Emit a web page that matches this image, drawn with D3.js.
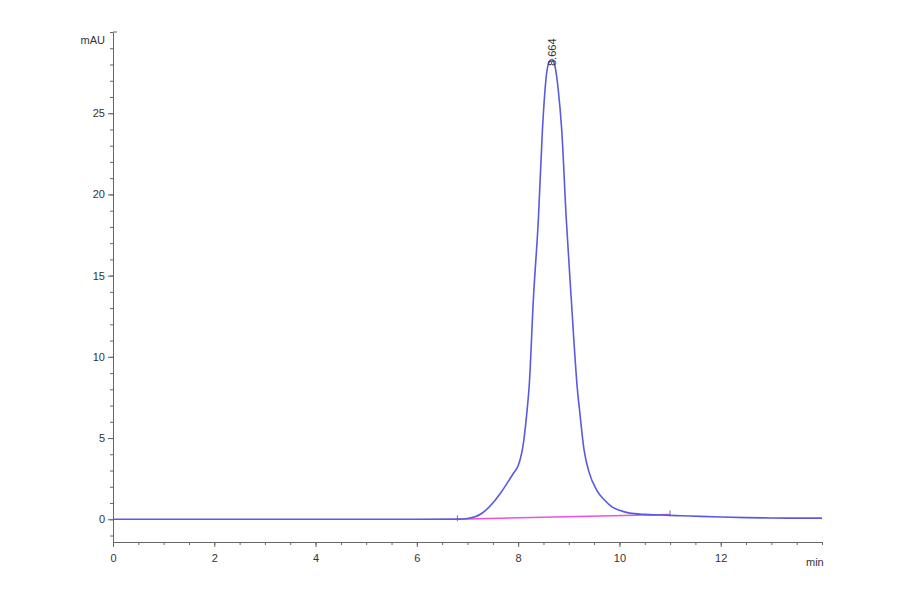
<!DOCTYPE html>
<html>
<head>
<meta charset="utf-8">
<script src="https://cdn.jsdelivr.net/npm/d3@7"></script>
<style>
  body { margin: 0; background: #fff; }
  svg { display: block; }
  .axis text { font-family: Arial, "Liberation Sans", sans-serif; font-size: 11px; fill: #333; }
  .axis path, .axis line { stroke: #666; }
</style>
</head>
<body>
<svg id="chart" width="900" height="594"></svg>
<script>
// retention time (min) and detector signal (mAU)
var times = [0, 1, 2, 3, 4, 5, 6, 6.8, 7.0, 7.15, 7.3, 7.5, 7.65, 7.8, 7.9, 8.0, 8.05, 8.1, 8.17,
  8.22, 8.3, 8.4, 8.48, 8.56, 8.62, 8.67, 8.72, 8.79, 8.86, 8.95, 9.05, 9.17, 9.22, 9.3, 9.4,
  9.55, 9.7, 9.86, 10.0, 10.2, 10.5, 10.8, 11.2, 11.6, 12.0, 12.5, 13.0, 13.5, 14.0];
var signal = [0, 0, 0, 0, 0, 0, 0, 0.01, 0.05, 0.15, 0.4, 1.0, 1.6, 2.3, 2.8, 3.3, 3.8, 4.6, 6.5,
  8.3, 13.5, 18.5, 24.0, 27.4, 28.2, 28.3, 28.0, 26.5, 24.0, 18.5, 13.5, 8.0, 6.5, 4.3, 2.9,
  1.8, 1.2, 0.75, 0.55, 0.38, 0.3, 0.26, 0.22, 0.18, 0.14, 0.1, 0.08, 0.07, 0.07];

// integration baseline (start, end)
var baseTimes = [6.8, 11.0];
var baseSignal = [0.0, 0.3];

var peakTimes = [8.664];
var peakLabels = ["8.664"];

var xMajor = [0, 2, 4, 6, 8, 10, 12];
var yMajor = [0, 5, 10, 15, 20, 25];

var svg = d3.select("#chart");
var x = d3.scaleLinear().domain([0, 14]).range([113, 822]);
var y = d3.scaleLinear().domain([-1.4, 30]).range([542, 32]);

// minor ticks
var gxMinor = svg.append("g").attr("class", "axis")
  .attr("transform", "translate(0,542)")
  .call(d3.axisBottom(x).tickValues(d3.range(0, 14.01, 0.5)).tickSize(3).tickFormat(""));
gxMinor.select(".domain").remove();
var gyMinor = svg.append("g").attr("class", "axis")
  .attr("transform", "translate(113,0)")
  .call(d3.axisLeft(y).tickValues(d3.range(-1, 30.01, 1)).tickSize(3).tickFormat(""));
gyMinor.select(".domain").remove();

// major axes
svg.append("g").attr("class", "axis")
  .attr("transform", "translate(0,542)")
  .call(d3.axisBottom(x).tickValues(xMajor).tickSize(5).tickSizeOuter(0).tickFormat(d3.format("d")))
  .selectAll("text").attr("dy", "1.1em");
svg.append("g").attr("class", "axis")
  .attr("transform", "translate(113,0)")
  .call(d3.axisLeft(y).tickValues(yMajor).tickSize(5).tickSizeOuter(0).tickFormat(d3.format("d")));

// cap at top of y axis
svg.append("line").attr("x1", 113).attr("x2", 117).attr("y1", y(30)).attr("y2", y(30))
  .attr("stroke", "#666");

svg.append("text").attr("x", 105).attr("y", 44).attr("text-anchor", "end")
  .style("font-family", "Arial, sans-serif").style("font-size", "11px").style("fill", "#333")
  .text("mAU");
svg.append("text").attr("x", 806).attr("y", 566)
  .style("font-family", "Arial, sans-serif").style("font-size", "11px").style("fill", "#333")
  .text("min");

// baseline
svg.append("path")
  .datum(d3.zip(baseTimes, baseSignal))
  .attr("fill", "none").attr("stroke", "#f050e0").attr("stroke-width", 1.5)
  .attr("d", d3.line().x(function(d) { return x(d[0]); }).y(function(d) { return y(d[1]); }));
svg.selectAll(".btick").data(d3.zip(baseTimes, baseSignal)).enter().append("line")
  .attr("x1", function(d) { return x(d[0]); }).attr("x2", function(d) { return x(d[0]); })
  .attr("y1", function(d) { return y(d[1]) - 4; }).attr("y2", function(d) { return y(d[1]) + 2; })
  .attr("stroke", "#777");

// trace
svg.append("path")
  .datum(d3.zip(times, signal))
  .attr("fill", "none").attr("stroke", "#5a5ae0").attr("stroke-width", 1.6)
  .attr("d", d3.line().curve(d3.curveMonotoneX)
    .x(function(d) { return x(d[0]); }).y(function(d) { return y(d[1]); }));

// peak label
svg.selectAll(".plabel").data(d3.zip(peakTimes, peakLabels)).enter().append("text")
  .attr("transform", function(d) { return "translate(" + (x(d[0]) + 4) + "," + 66 + ") rotate(-90)"; })
  .style("font-family", "Arial, sans-serif").style("font-size", "11px").style("fill", "#333")
  .text(function(d) { return d[1]; });
</script>
</body>
</html>
